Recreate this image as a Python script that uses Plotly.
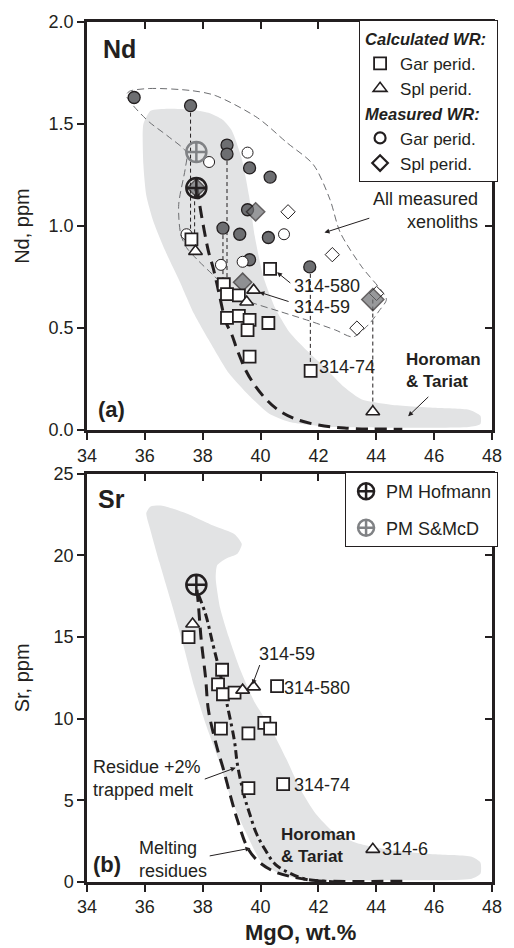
import plotly.graph_objects as go

TXT = '#231f20'
DARK = '#6d6e71'
FIELD = '#e2e3e4'
FONT = 'Liberation Sans, Arial, sans-serif'

# ---------------- Panel (a): Nd ----------------
field_nd_x = [35.95, 36.2, 36.8, 37.6, 38.2, 38.7, 39.0, 39.35, 39.6, 39.8, 40.1, 40.5, 41.0, 41.6, 42.2, 42.9, 43.5,
              44.5, 46.0, 47.2, 47.6, 47.6, 47.2, 45.0, 42.5, 41.0, 40.3, 39.6, 38.9, 38.3, 37.7, 37.2, 36.7, 36.3,
              36.05, 35.95, 35.95]
field_nd_y = [1.50, 1.565, 1.575, 1.57, 1.555, 1.52, 1.47, 1.33, 1.15, 0.95, 0.75, 0.60, 0.48, 0.39, 0.31, 0.21, 0.15,
              0.125, 0.11, 0.10, 0.07, 0.03, 0.015, 0.012, 0.015, 0.04, 0.08, 0.17, 0.28, 0.42, 0.57, 0.73, 0.88, 1.02,
              1.15, 1.30, 1.50]

env_x = [35.46, 36.15, 37.6, 38.43, 39.9, 40.9, 41.83, 42.4, 42.75, 43.5, 44.2, 44.35, 44.1, 43.75, 43.2, 42.6,
         41.7, 40.7, 39.55, 38.97, 38.4, 37.85, 37.44, 37.24, 37.17, 37.4, 37.44, 36.8, 36.15, 35.6, 35.36, 35.46]
env_y = [1.66, 1.674, 1.664, 1.64, 1.53, 1.41, 1.30, 1.13, 0.97, 0.80, 0.68, 0.64, 0.585, 0.52, 0.457, 0.49,
         0.535, 0.58, 0.633, 0.676, 0.755, 0.83, 0.895, 0.96, 1.105, 1.285, 1.36, 1.44, 1.51, 1.59, 1.64, 1.66]

tie_x = [37.58, 37.58, None, 37.72, 37.72, None, 38.70, 38.70, None, 38.84, 38.84, None,
         41.72, 41.72, None, 43.88, 43.88]
tie_y = [1.59, 0.935, None, 1.19, 0.876, None, 0.99, 0.715, None, 1.353, 0.667, None,
         0.80, 0.29, None, 0.64, 0.09]

nd_melt_x = [37.80, 37.90, 38.05, 38.20, 38.37, 38.55, 38.80, 39.00, 39.20, 39.50, 39.80, 40.20, 40.60, 41.20,
             42.00, 42.90, 44.90]
nd_melt_y = [1.19, 1.10, 0.98, 0.875, 0.79, 0.68, 0.53, 0.47, 0.39, 0.29, 0.22, 0.15, 0.10, 0.055,
             0.025, 0.01, 0.005]

nd_dark_circ_x = [35.63, 37.58, 38.84, 38.84, 39.62, 40.33, 39.55, 38.70, 39.28, 40.27, 39.62, 41.70]
nd_dark_circ_y = [1.63, 1.59, 1.397, 1.353, 1.285, 1.24, 1.08, 0.99, 0.96, 0.944, 0.835, 0.80]
nd_open_circ_x = [38.22, 39.55, 37.44, 40.81, 38.63, 39.38]
nd_open_circ_y = [1.314, 1.36, 0.96, 0.96, 0.81, 0.825]
nd_dark_diam_x = [37.78, 39.83, 39.38, 43.88]
nd_dark_diam_y = [1.187, 1.07, 0.725, 0.64]
nd_dark_diam_s = [14, 14, 14, 17]
nd_open_diam_x = [40.95, 42.48, 43.33, 44.01]
nd_open_diam_y = [1.07, 0.86, 0.50, 0.67]
nd_sq_x = [37.61, 38.73, 38.84, 39.25, 40.33, 38.84, 39.25, 39.62, 39.55, 40.27, 39.62, 41.73]
nd_sq_y = [0.935, 0.715, 0.667, 0.66, 0.79, 0.55, 0.56, 0.54, 0.49, 0.525, 0.36, 0.29]
nd_tri_x = [37.75, 39.76, 39.52, 43.88]
nd_tri_y = [0.876, 0.686, 0.628, 0.09]
pm_hof_nd = (37.78, 1.187)
pm_smd_nd = (37.78, 1.363)

# ---------------- Panel (b): Sr ----------------
field_sr_x = [36.05, 36.2, 36.6, 37.4, 38.4, 39.1, 39.35, 39.2, 38.8, 38.5, 38.45, 38.6, 38.9, 39.3, 39.8, 40.3,
              40.9, 41.4, 41.9, 42.5, 43.3, 44.5, 46.0, 47.3, 47.6, 47.6, 47.3, 45.0, 42.5, 41.3, 40.6, 40.0,
              39.5, 39.0, 38.55, 38.1, 37.7, 37.3, 36.9, 36.5, 36.2, 36.05]
field_sr_y = [22.6, 23.0, 23.05, 22.6, 21.8, 21.3, 20.7, 20.1, 19.8, 19.4, 18.6, 16.8, 15.0, 13.0, 11.0, 9.6,
              7.5, 5.6, 4.2, 3.1, 2.4, 1.95, 1.7, 1.55, 1.2, 0.5, 0.2, 0.1, 0.1, 0.2, 0.55, 1.3,
              3.0, 5.0, 7.5, 9.7, 12.0, 14.7, 17.2, 19.6, 21.5, 22.6]

sr_melt_x = [37.80, 37.85, 37.95, 38.10, 38.20, 38.50, 38.70, 38.97, 39.20, 39.55, 39.90, 40.40, 41.00, 41.80,
             42.20, 44.90]
sr_melt_y = [17.9, 17.0, 14.8, 12.5, 10.5, 8.2, 7.0, 5.2, 3.8, 2.1, 1.3, 0.7, 0.35, 0.1, 0.05, 0.05]
sr_trap_x = [37.85, 38.10, 38.36, 38.53, 38.87, 39.10, 39.20, 39.45, 39.62, 39.85, 40.15, 40.50, 41.00, 41.50,
             42.20, 42.60]
sr_trap_y = [17.6, 16.4, 14.5, 13.3, 10.65, 8.6, 7.2, 5.17, 4.2, 3.0, 2.0, 1.1, 0.55, 0.2, 0.05, 0.0]

sr_sq_x = [37.51, 38.67, 38.53, 38.70, 39.10, 40.57, 38.63, 39.58, 40.13, 40.33, 39.58, 40.78]
sr_sq_y = [15.0, 13.0, 12.1, 11.5, 11.6, 12.0, 9.4, 9.1, 9.75, 9.4, 5.75, 6.0]
sr_tri_x = [37.65, 39.38, 39.76, 43.88]
sr_tri_y = [15.8, 11.75, 11.95, 2.0]
pm_hof_sr = (37.78, 18.2)

x_ticks = [34, 36, 38, 40, 42, 44, 46, 48]

fig = go.Figure()

def line_trace(x, y, xa, ya, **kw):
    return go.Scatter(x=x, y=y, xaxis=xa, yaxis=ya, mode='lines', showlegend=False, hoverinfo='skip', **kw)

# fields
fig.add_trace(line_trace(field_nd_x, field_nd_y, 'x', 'y', fill='toself', fillcolor=FIELD,
                         line=dict(width=0, color=FIELD, shape='spline', smoothing=0.6)))
fig.add_trace(line_trace(field_sr_x, field_sr_y, 'x2', 'y2', fill='toself', fillcolor=FIELD,
                         line=dict(width=0, color=FIELD, shape='spline', smoothing=0.6)))
# envelope
fig.add_trace(line_trace(env_x, env_y, 'x', 'y',
                         line=dict(width=1, color='#6d6e71', dash='7px,4px', shape='spline', smoothing=0.8)))
# tie lines
fig.add_trace(line_trace(tie_x, tie_y, 'x', 'y', line=dict(width=1, color=TXT, dash='4px,3px')))
# melting curves
fig.add_trace(line_trace(nd_melt_x, nd_melt_y, 'x', 'y',
                         line=dict(width=3, color=TXT, dash='12px,7px', shape='spline')))
fig.add_trace(line_trace(sr_melt_x, sr_melt_y, 'x2', 'y2',
                         line=dict(width=3, color=TXT, dash='12px,7px', shape='spline')))
fig.add_trace(line_trace(sr_trap_x, sr_trap_y, 'x2', 'y2',
                         line=dict(width=3, color=TXT, dash='9px,4px,3px,4px', shape='spline')))

def mk(symbol, size, fill, lw, lc=TXT):
    return dict(symbol=symbol, size=size, color=fill, line=dict(width=lw, color=lc))

# panel a markers
fig.add_trace(go.Scatter(x=nd_dark_circ_x, y=nd_dark_circ_y, mode='markers', marker=mk('circle', 12, DARK, 1.3),
                         showlegend=False, hoverinfo='skip'))
fig.add_trace(go.Scatter(x=nd_open_circ_x, y=nd_open_circ_y, mode='markers', marker=mk('circle', 11, 'white', 1),
                         showlegend=False, hoverinfo='skip'))
fig.add_trace(go.Scatter(x=nd_open_diam_x, y=nd_open_diam_y, mode='markers', marker=mk('diamond', 11, 'white', 1),
                         showlegend=False, hoverinfo='skip'))
fig.add_trace(go.Scatter(x=nd_dark_diam_x, y=nd_dark_diam_y, mode='markers',
                         marker=dict(symbol='diamond', size=nd_dark_diam_s, color=DARK, line=dict(width=1.5, color=TXT)),
                         showlegend=False, hoverinfo='skip'))
fig.add_trace(go.Scatter(x=nd_sq_x, y=nd_sq_y, mode='markers', marker=mk('square', 12, 'white', 1.8),
                         name='Gar perid.', legend='legend', legendgroup='calc',
                         legendgrouptitle=dict(text='<b><i>Calculated WR:</i></b>', font=dict(size=16.5, color=TXT)),
                         hoverinfo='skip'))
fig.add_trace(go.Scatter(x=nd_tri_x, y=nd_tri_y, mode='markers', marker=mk('triangle-up', 12, 'white', 1.6),
                         name='Spl perid.', legend='legend', legendgroup='calc', hoverinfo='skip'))
fig.add_trace(go.Scatter(x=[None], y=[None], mode='markers', marker=mk('circle', 11, 'white', 2.2),
                         name='Gar perid.', legend='legend', legendgroup='meas',
                         legendgrouptitle=dict(text='<b><i>Measured WR:</i></b>', font=dict(size=16.5, color=TXT))))
fig.add_trace(go.Scatter(x=[None], y=[None], mode='markers', marker=mk('diamond', 12, 'white', 2.2),
                         name='Spl perid.', legend='legend', legendgroup='meas'))
fig.add_trace(go.Scatter(x=[pm_hof_nd[0]], y=[pm_hof_nd[1]], mode='markers',
                         marker=mk('circle-cross-open', 20, TXT, 2.5, TXT), showlegend=False, hoverinfo='skip'))
fig.add_trace(go.Scatter(x=[pm_smd_nd[0]], y=[pm_smd_nd[1]], mode='markers',
                         marker=mk('circle-cross-open', 20, '#808285', 2.5, '#808285'),
                         name='PM S&McD', legend='legend2', legendgroup='smd', legendrank=2, hoverinfo='skip'))

# panel b markers
fig.add_trace(go.Scatter(x=sr_sq_x, y=sr_sq_y, xaxis='x2', yaxis='y2', mode='markers',
                         marker=mk('square', 12, 'white', 1.8), showlegend=False, hoverinfo='skip'))
fig.add_trace(go.Scatter(x=sr_tri_x, y=sr_tri_y, xaxis='x2', yaxis='y2', mode='markers',
                         marker=mk('triangle-up', 12, 'white', 1.6), showlegend=False, hoverinfo='skip'))
fig.add_trace(go.Scatter(x=[pm_hof_sr[0]], y=[pm_hof_sr[1]], xaxis='x2', yaxis='y2', mode='markers',
                         marker=mk('circle-cross-open', 20, TXT, 2.5, TXT),
                         name='PM Hofmann', legend='legend2', legendgroup='hof', legendrank=1, hoverinfo='skip'))

# dummy traces to activate mirror axes with inward ticks
fig.add_trace(go.Scatter(x=[None], y=[None], xaxis='x3', yaxis='y3', showlegend=False))
fig.add_trace(go.Scatter(x=[None], y=[None], xaxis='x4', yaxis='y4', showlegend=False))

top_dom = [0.5254, 1.0]
bot_dom = [0.0, 0.4746]

ax_common = dict(showgrid=False, zeroline=False, showline=True, linewidth=2.5, linecolor=TXT,
                 ticks='outside', ticklen=7, tickwidth=1.5, tickcolor=TXT,
                 tickfont=dict(size=18, color=TXT, family=FONT))
mir_common = dict(showgrid=False, zeroline=False, showline=True, linewidth=2.5, linecolor=TXT,
                  ticks='inside', ticklen=7, tickwidth=1.5, tickcolor=TXT, showticklabels=False)

fig.update_layout(
    width=514, height=948,
    margin=dict(l=87, r=16, t=16, b=66),
    paper_bgcolor='white', plot_bgcolor='white',
    font=dict(family=FONT, color=TXT, size=18),
    xaxis=dict(domain=[0, 1], anchor='y', range=[34, 48], tickvals=x_ticks, **ax_common),
    yaxis=dict(domain=top_dom, anchor='x', range=[0, 2], tickvals=[0, 0.5, 1, 1.5, 2], tickformat='.1f',
               title=dict(text='Nd, ppm', font=dict(size=20, color=TXT), standoff=14), **ax_common),
    xaxis2=dict(domain=[0, 1], anchor='y2', range=[34, 48], tickvals=x_ticks, **ax_common),
    yaxis2=dict(domain=bot_dom, anchor='x2', range=[0, 25], tickvals=[0, 5, 10, 15, 20, 25],
                title=dict(text='Sr, ppm', font=dict(size=20, color=TXT), standoff=19), **ax_common),
    xaxis3=dict(overlaying='x', anchor='y3', side='top', range=[34, 48], tickvals=x_ticks, **mir_common),
    yaxis3=dict(overlaying='y', anchor='x3', side='right', range=[0, 2], tickvals=[0, 0.5, 1, 1.5, 2], **mir_common),
    xaxis4=dict(overlaying='x2', anchor='y4', side='top', range=[34, 48], tickvals=x_ticks, **mir_common),
    yaxis4=dict(overlaying='y2', anchor='x4', side='right', range=[0, 25], tickvals=[0, 5, 10, 15, 20, 25], **mir_common),
    legend=dict(x=1.015, xanchor='right', y=1.002, yanchor='top', bgcolor='white', bordercolor=TXT, borderwidth=1,
                font=dict(size=17, color=TXT), tracegroupgap=0, traceorder='grouped', itemwidth=30),
    legend2=dict(x=1.015, xanchor='right', y=bot_dom[1] + 0.002, yanchor='top', bgcolor='white', bordercolor=TXT,
                 borderwidth=1, font=dict(size=18, color=TXT), tracegroupgap=10, traceorder='grouped'),
)

def label(text, x, y, xref='x', yref='y', size=18, xanchor='left', yanchor='middle', align='left'):
    fig.add_annotation(text=text, x=x, y=y, xref=xref, yref=yref, showarrow=False, xanchor=xanchor,
                       yanchor=yanchor, align=align, font=dict(size=size, color=TXT, family=FONT))

def arrow(x0, y0, x1, y1, xref='x', yref='y'):
    fig.add_annotation(text='', x=x1, y=y1, ax=x0, ay=y0, xref=xref, yref=yref, axref=xref, ayref=yref,
                       showarrow=True, arrowhead=2, arrowsize=1, arrowwidth=1, arrowcolor=TXT)

# panel a texts
label('<b>Nd</b>', 34.5, 1.869, size=25)
label('<b>(a)</b>', 34.3, 0.102, size=22)
label('All measured<br>xenoliths', 47.6, 1.075, xanchor='right', align='right')
label('314-580', 41.1, 0.706)
label('314-59', 41.1, 0.603)
label('314-74', 41.95, 0.311)
label('<b>Horoman<br>&amp; Tariat</b>', 44.97, 0.29, size=17)
arrow(43.81, 1.041, 42.21, 0.968)
arrow(41.08, 0.715, 40.57, 0.774)
arrow(41.02, 0.628, 39.96, 0.676)
arrow(45.85, 0.170, 45.1, 0.068)

# panel b texts
label('<b>Sr</b>', 34.3, 23.48, 'x2', 'y2', size=25)
label('<b>(b)</b>', 34.15, 1.09, 'x2', 'y2', size=22)
label('314-59', 39.87, 13.99, 'x2', 'y2')
label('314-580', 40.75, 11.86, 'x2', 'y2')
label('314-74', 41.08, 5.96, 'x2', 'y2')
label('314-6', 44.13, 2.0, 'x2', 'y2')
label('<b>Horoman<br>&amp; Tariat</b>', 40.62, 2.22, 'x2', 'y2', size=17)
label('Residue +2%<br>trapped melt', 34.15, 6.33, 'x2', 'y2')
label('Melting<br>residues', 35.72, 1.37, 'x2', 'y2')
arrow(39.99, 13.38, 39.72, 12.1, 'x2', 'y2')
arrow(38.02, 6.27, 39.14, 7.0, 'x2', 'y2')
arrow(38.19, 1.58, 39.65, 2.07, 'x2', 'y2')

# x title
label('<b>MgO, wt.%</b>', 0.528, -0.0589, 'paper', 'paper', size=22, xanchor='center')

fig.write_html('out.html')
